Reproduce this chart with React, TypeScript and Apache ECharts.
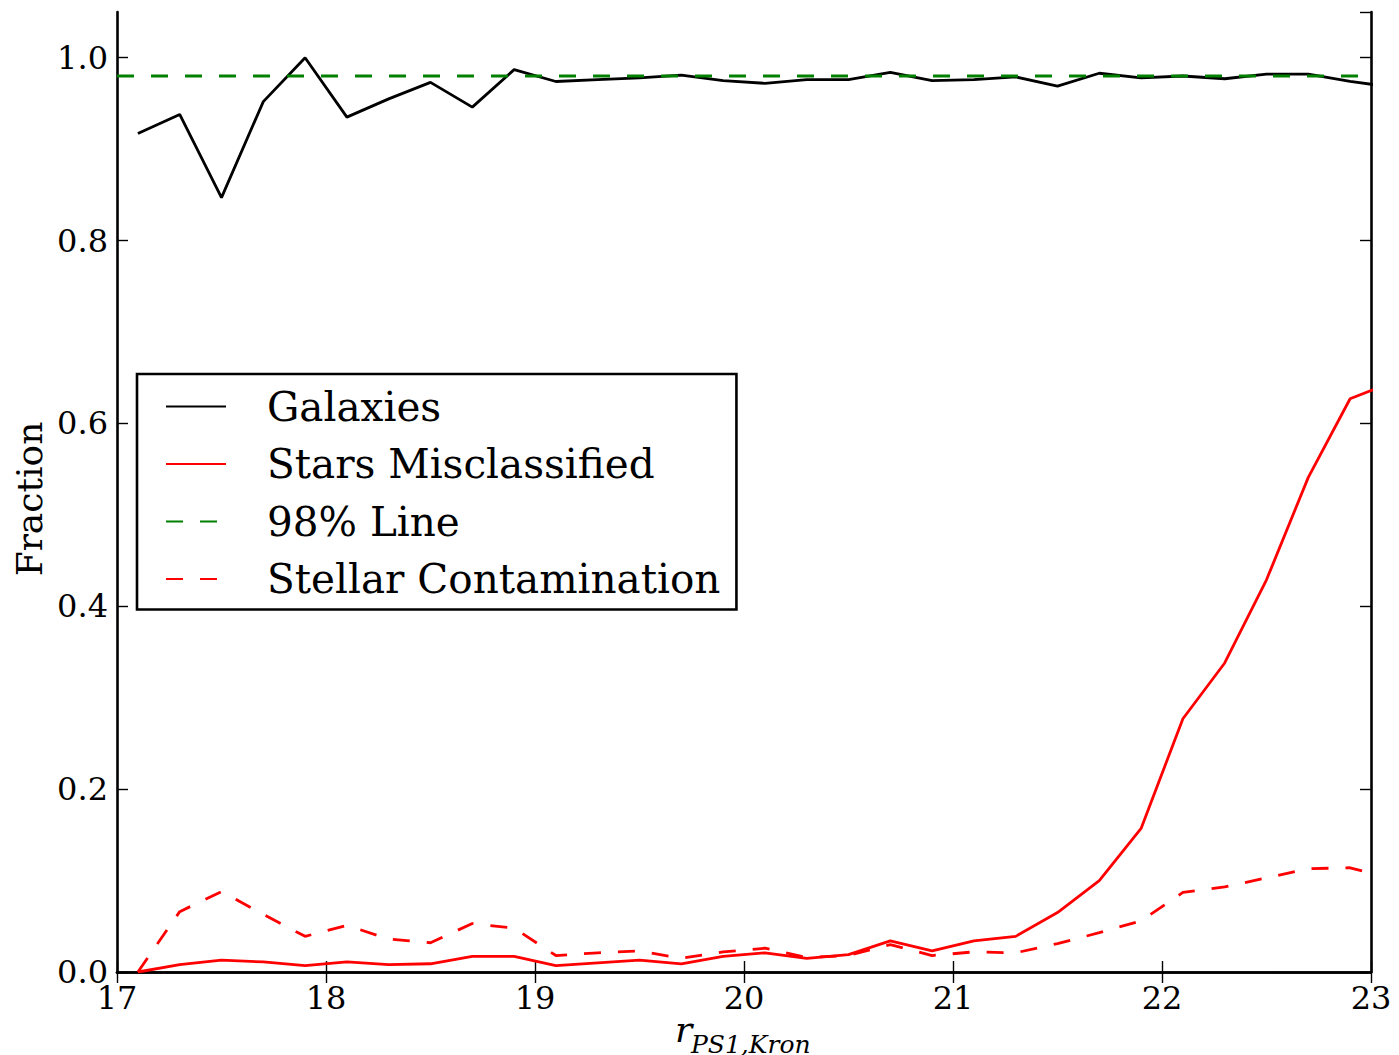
import React, { useEffect, useRef } from "react";
import * as echarts from "echarts";

const xValues = [17.1, 17.3, 17.5, 17.7, 17.9, 18.1, 18.3, 18.5, 18.7, 18.9, 19.1, 19.3, 19.5, 19.7, 19.9, 20.1, 20.3, 20.5, 20.7, 20.9, 21.1, 21.3, 21.5, 21.7, 21.9, 22.1, 22.3, 22.5, 22.7, 22.9, 23.1];
const galaxies = [0.917, 0.938, 0.847, 0.952, 1.0, 0.935, 0.955, 0.973, 0.946, 0.987, 0.974, 0.976, 0.978, 0.981, 0.975, 0.972, 0.976, 0.976, 0.984, 0.975, 0.976, 0.979, 0.969, 0.983, 0.978, 0.980, 0.977, 0.982, 0.982, 0.974, 0.968];
const starsMisclassified = [0.0, 0.008, 0.013, 0.011, 0.007, 0.011, 0.008, 0.009, 0.017, 0.017, 0.007, 0.010, 0.013, 0.009, 0.017, 0.021, 0.015, 0.019, 0.034, 0.023, 0.034, 0.039, 0.065, 0.100, 0.157, 0.277, 0.338, 0.429, 0.541, 0.627, 0.645];
const stellarContamination = [0.0, 0.066, 0.088, 0.063, 0.039, 0.051, 0.036, 0.032, 0.053, 0.048, 0.018, 0.021, 0.023, 0.015, 0.022, 0.026, 0.016, 0.018, 0.030, 0.018, 0.022, 0.021, 0.031, 0.043, 0.056, 0.087, 0.093, 0.103, 0.113, 0.114, 0.102];
const line98X = [17, 23];
const line98Y = [0.98, 0.98];
const seriesNames = ["Galaxies", "Stars Misclassified", "98% Line", "Stellar Contamination"];
const xTicks = [17, 18, 19, 20, 21, 22, 23];
const yTicks = [0.0, 0.2, 0.4, 0.6, 0.8, 1.0];
const xTitleMain = "r";
const xTitleSub = "PS1,Kron";
const yTitle = "Fraction";

const FONT = "DejaVu Serif";

export default function App() {
  const ref = useRef<HTMLDivElement>(null);
  useEffect(() => {
    if (!ref.current) return;
    const chart = echarts.init(ref.current, null, { renderer: "svg", width: 1399, height: 1055 });
    const pair = (ys: number[]) => xValues.map((x, i) => [x, ys[i]]);
    const xMin = xTicks[0];
    const xMax = xTicks[xTicks.length - 1];
    const frame = { show: true, lineStyle: { color: "#000", width: 2.6 } };
    const tick = { show: true, inside: true, length: 11, lineStyle: { color: "#000", width: 1.4 } };
    const lw = 2.8;
    const hidden = "rgba(0,0,0,0)";
    chart.setOption({
      animation: false,
      backgroundColor: "#fff",
      grid: { left: 117, width: 1254, top: 12, height: 960, containLabel: false, outerBoundsMode: "none" },
      graphic: [
        {
          type: "text",
          x: 675,
          y: 1029,
          style: {
            text: xTitleMain,
            font: 'italic 36px "DejaVu Serif"',
            fill: "#000",
            align: "left",
            verticalAlign: "middle",
            lineHeight: 30,
          },
        },
        {
          type: "text",
          x: 691,
          y: 1044,
          style: {
            text: xTitleSub,
            font: 'italic 25px "DejaVu Serif"',
            fill: "#000",
            align: "left",
            verticalAlign: "middle",
            lineHeight: 20,
          },
        },
      ],
      legend: {
        left: 137,
        top: 374,
        orient: "vertical",
        data: seriesNames,
        itemWidth: 60,
        itemHeight: 40,
        itemGap: 16.5,
        padding: [12, 16, 10, 28],
        borderColor: "#000",
        borderWidth: 2.6,
        borderRadius: 0,
        backgroundColor: "#fff",
        itemStyle: { color: hidden, borderColor: hidden, borderWidth: 0, opacity: 0 },
        textStyle: { fontFamily: FONT, fontSize: 40.5, color: "#000", padding: [0, 0, 0, 36], lineHeight: 40 },
      },
      xAxis: [
        {
          type: "value",
          min: xMin,
          max: xMax,
          interval: 1,
          position: "bottom",
          axisLine: frame,
          axisTick: tick,
          splitLine: { show: false },
          axisLabel: { fontFamily: FONT, fontSize: 32, color: "#000", margin: 10 },
        },
        {
          type: "value",
          min: xMin,
          max: xMax,
          interval: 1,
          position: "top",
          axisLine: frame,
          axisTick: tick,
          splitLine: { show: false },
          axisLabel: { show: false },
        },
      ],
      yAxis: [
        {
          type: "value",
          min: 0,
          max: 1.05,
          interval: 0.2,
          position: "left",
          axisLine: frame,
          axisTick: tick,
          splitLine: { show: false },
          axisLabel: {
            fontFamily: FONT,
            fontSize: 32,
            color: "#000",
            margin: 9,
            showMaxLabel: false,
            formatter: (v: number) => (yTicks.some((t) => Math.abs(t - v) < 1e-6) ? v.toFixed(1) : ""),
          },
          name: yTitle,
          nameLocation: "middle",
          nameGap: 70,
          nameMoveOverlap: false,
          nameTextStyle: { fontFamily: FONT, fontSize: 36, color: "#000", padding: [0, 14, 0, 0] },
        },
        {
          type: "value",
          min: 0,
          max: 1.05,
          interval: 0.2,
          position: "right",
          axisLine: frame,
          axisTick: tick,
          splitLine: { show: false },
          axisLabel: { show: false },
        },
      ],
      series: [
        {
          name: seriesNames[0],
          type: "line",
          data: pair(galaxies),
          symbol: "none",
          lineStyle: { color: "#000000", width: lw },
          itemStyle: { color: "#000000" },
          clip: true,
        },
        {
          name: seriesNames[1],
          type: "line",
          data: pair(starsMisclassified),
          symbol: "none",
          lineStyle: { color: "#ff0000", width: lw },
          itemStyle: { color: "#ff0000" },
          clip: true,
        },
        {
          name: seriesNames[2],
          type: "line",
          data: line98X.map((x, i) => [x, line98Y[i]]),
          symbol: "none",
          lineStyle: { color: "#008000", width: lw, type: [17, 17] },
          itemStyle: { color: "#008000" },
          clip: true,
        },
        {
          name: seriesNames[3],
          type: "line",
          data: pair(stellarContamination),
          symbol: "none",
          lineStyle: { color: "#ff0000", width: lw, type: [17, 17] },
          itemStyle: { color: "#ff0000" },
          clip: true,
        },
      ],
    });
    return () => chart.dispose();
  }, []);
  return (
    <div
      ref={ref}
      style={{ position: "fixed", left: 0, top: 0, width: 1399, height: 1055, background: "#fff" }}
    />
  );
}
